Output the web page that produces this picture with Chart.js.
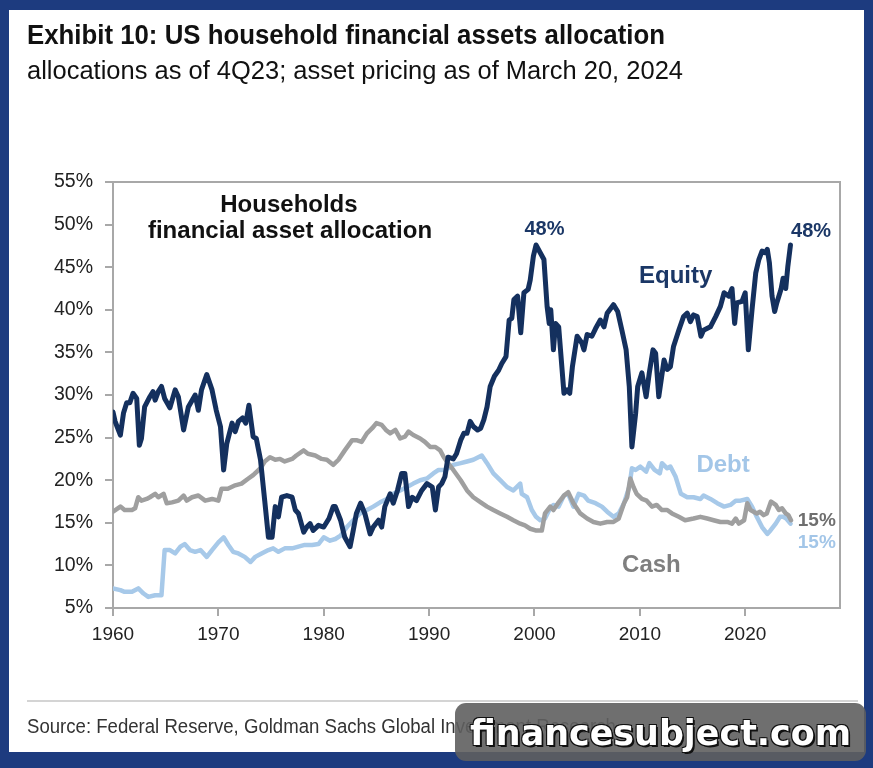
<!DOCTYPE html>
<html>
<head>
<meta charset="utf-8">
<script src="https://cdn.jsdelivr.net/npm/chart.js@4/dist/chart.umd.min.js"></script>
<style>
  html,body{margin:0;padding:0;}
  body{width:873px;height:768px;background:#1d3b7f;position:relative;overflow:hidden;}
  #panel{position:absolute;left:9px;top:10px;width:855px;height:742px;background:#fff;}
  #c{position:absolute;left:0;top:0;}
  .txt{position:absolute;white-space:nowrap;transform-origin:0 0;line-height:1;}
  #title{left:27px;top:21px;font-family:"Liberation Sans",Arial,sans-serif;font-weight:bold;font-size:28px;color:#111;}
  #subtitle{left:27px;top:57px;font-family:"Liberation Sans",Arial,sans-serif;font-size:26px;color:#111;}
  #sep{position:absolute;left:27px;top:700px;width:831px;height:2px;background:#d4d4d4;}
  #source{left:27px;top:716px;font-family:"Liberation Sans",Arial,sans-serif;font-size:20px;color:#333;}
  #wm{position:absolute;left:455px;top:703px;width:411px;height:58px;background:rgba(95,95,95,0.9);border-radius:11px;}
  #wmtext{left:470px;top:715px;font-family:"DejaVu Sans",sans-serif;font-weight:bold;font-size:36px;color:#fff;text-shadow:2px 2px 0 #111,-1px -1px 0 #111,1px -1px 0 #111,-1px 1px 0 #111;}
</style>
</head>
<body>
<div id="panel"></div>
<canvas id="c" width="873" height="768"></canvas>
<div id="title" class="txt">Exhibit 10: US household financial assets allocation</div>
<div id="subtitle" class="txt">allocations as of 4Q23; asset pricing as of March 20, 2024</div>
<div id="sep"></div>
<div id="source" class="txt">Source: Federal Reserve, Goldman Sachs Global Investment Research</div>
<div id="wm"></div>
<div id="wmtext" class="txt">financesubject.com</div>
<script>
// ---------- DATA ----------
const xTicks = [1960, 1970, 1980, 1990, 2000, 2010, 2020];
const yTicks = [5, 10, 15, 20, 25, 30, 35, 40, 45, 50, 55];

const equityYears = [1960.0,1960.2,1960.7,1961.0,1961.3,1961.6,1961.9,1962.25,1962.5,1962.7,1963.0,1963.5,1963.8,1964.0,1964.3,1964.6,1964.9,1965.4,1965.9,1966.2,1966.7,1967.15,1967.8,1968.1,1968.4,1968.9,1969.4,1969.8,1970.2,1970.5,1970.8,1971.3,1971.6,1971.9,1972.3,1972.6,1972.9,1973.3,1973.6,1974.0,1974.4,1974.75,1975.1,1975.4,1975.7,1976.0,1976.5,1977.0,1977.3,1977.6,1978.1,1978.4,1978.7,1979.0,1979.5,1980.0,1980.5,1980.9,1981.1,1981.6,1982.0,1982.5,1982.8,1983.1,1983.5,1983.9,1984.4,1984.7,1985.2,1985.5,1985.8,1986.3,1986.6,1987.0,1987.4,1987.7,1988.05,1988.4,1988.8,1989.3,1989.8,1990.3,1990.6,1990.9,1991.2,1991.5,1991.8,1992.3,1992.6,1993.0,1993.3,1993.6,1993.9,1994.2,1994.6,1994.9,1995.2,1995.5,1995.8,1996.2,1996.6,1996.9,1997.3,1997.6,1997.85,1998.05,1998.4,1998.7,1999.0,1999.4,1999.6,1999.9,2000.15,2000.55,2000.9,2001.2,2001.4,2001.55,2001.8,2002.0,2002.3,2002.8,2003.1,2003.35,2003.6,2004.05,2004.5,2004.7,2005.0,2005.45,2005.8,2006.25,2006.6,2006.9,2007.5,2007.9,2008.3,2008.7,2009.0,2009.25,2009.6,2009.8,2010.2,2010.6,2010.9,2011.25,2011.5,2011.8,2012.3,2012.6,2012.9,2013.2,2013.7,2014.15,2014.5,2014.8,2015.1,2015.45,2015.8,2016.05,2016.7,2017.2,2017.65,2018.0,2018.45,2018.75,2019.0,2019.2,2019.7,2020.0,2020.3,2020.65,2021.0,2021.3,2021.6,2021.9,2022.1,2022.3,2022.55,2022.8,2023.0,2023.4,2023.6,2023.85,2024.05,2024.3];
const equityValues = [28.0,26.9,25.3,27.9,29.1,29.1,30.2,29.6,24.1,24.9,28.6,29.8,30.4,29.4,30.4,31.0,29.6,28.5,30.6,29.8,25.9,28.6,30.0,28.2,30.6,32.4,30.6,28.2,26.3,21.2,24.3,26.7,25.7,26.9,27.3,26.7,28.8,25.1,24.9,22.4,17.6,13.3,13.3,16.9,15.7,18.0,18.2,18.0,16.5,16.1,13.9,14.5,14.9,14.1,14.7,14.5,15.5,16.9,16.9,15.3,13.3,12.2,14.1,16.1,17.3,16.1,13.7,14.5,15.3,14.5,16.9,18.4,17.3,18.8,20.8,20.8,16.9,18.0,17.6,18.8,19.6,19.2,16.5,19.2,19.6,20.4,22.7,22.5,23.1,24.7,25.5,25.5,26.9,26.3,25.9,26.1,27.1,28.6,31.0,32.2,32.9,33.7,34.5,38.8,39.0,41.2,41.6,37.3,42.0,42.4,43.5,46.3,47.6,46.7,45.9,40.4,38.4,40.0,35.3,38.4,38.0,30.2,30.6,30.2,33.3,36.9,36.1,35.3,37.1,36.9,37.8,38.8,38.0,39.6,40.6,39.8,37.6,35.3,31.0,23.9,27.8,31.0,32.6,29.8,32.6,35.3,34.9,29.8,34.1,33.0,33.3,35.7,37.6,39.2,39.6,38.6,39.4,39.2,36.9,37.6,38.0,39.2,40.4,42.0,41.6,42.5,38.4,40.8,41.0,42.0,35.3,40.0,44.3,45.9,46.9,46.7,47.1,45.5,41.6,39.8,40.8,42.4,43.7,42.5,45.1,47.6];

const cashYears = [1960.0,1960.7,1961.1,1961.8,1962.1,1962.4,1962.7,1963.2,1963.5,1964.0,1964.3,1964.8,1965.1,1965.6,1966.2,1966.7,1967.0,1967.5,1968.1,1968.75,1969.4,1970.0,1970.3,1970.9,1971.6,1972.2,1972.85,1973.3,1974.0,1974.4,1974.9,1975.4,1975.85,1976.3,1977.0,1977.4,1978.1,1978.5,1979.2,1979.8,1980.3,1980.9,1981.4,1982.0,1982.7,1983.1,1983.6,1984.1,1984.6,1985.0,1985.5,1985.9,1986.3,1986.8,1987.25,1987.7,1988.05,1988.5,1989.15,1989.6,1990.1,1990.6,1991.05,1991.4,1991.8,1992.3,1993.0,1993.6,1994.2,1994.9,1995.5,1996.1,1996.75,1997.4,1998.0,1998.65,1999.1,1999.6,2000.1,2000.7,2001.0,2001.5,2001.8,2002.3,2002.8,2003.2,2003.7,2004.35,2005.0,2005.6,2006.25,2006.9,2007.5,2008.0,2008.5,2008.8,2009.1,2009.4,2009.7,2010.2,2010.65,2011.15,2011.6,2012.1,2012.6,2013.05,2013.7,2014.3,2015.1,2015.75,2016.4,2017.0,2017.65,2018.3,2018.75,2019.1,2019.4,2019.9,2020.2,2020.5,2021.1,2021.4,2021.75,2022.05,2022.45,2022.9,2023.2,2023.5,2023.85,2024.1,2024.35];
const cashValues = [16.3,16.9,16.5,16.5,16.7,18.0,17.6,17.8,18.0,18.4,18.0,18.4,17.3,17.4,17.6,18.2,17.6,18.0,18.2,17.6,17.8,17.6,19.0,19.0,19.4,19.6,20.2,20.6,21.4,22.2,22.7,22.4,22.5,22.2,22.5,22.9,23.5,23.1,22.9,22.5,22.4,21.8,22.4,23.5,24.7,24.7,24.5,25.5,26.1,26.7,26.5,25.9,25.5,25.9,24.9,25.1,25.7,25.3,24.9,24.5,23.9,23.9,23.5,22.7,22.0,21.2,20.0,18.8,18.0,17.4,16.9,16.5,16.1,15.7,15.3,14.9,14.7,14.3,14.1,14.1,16.1,16.9,16.5,17.4,18.2,18.6,17.3,16.1,15.5,15.1,14.9,15.1,15.1,15.5,17.3,18.0,20.2,19.2,18.4,17.8,17.6,16.9,17.1,16.5,16.5,16.1,15.7,15.3,15.5,15.7,15.5,15.3,15.1,15.1,14.9,15.5,14.9,15.3,17.3,16.5,16.1,16.3,15.9,16.1,17.5,17.1,16.5,16.7,16.1,15.9,15.3];

const debtYears = [1960.0,1960.7,1961.1,1961.8,1962.4,1962.9,1963.35,1964.0,1964.6,1964.9,1965.4,1965.9,1966.4,1966.8,1967.3,1967.8,1968.3,1968.9,1969.4,1970.0,1970.5,1970.95,1971.4,1971.9,1972.5,1973.05,1973.5,1974.1,1974.75,1975.2,1975.7,1976.3,1977.0,1977.6,1978.2,1978.9,1979.5,1980.0,1980.6,1981.1,1981.6,1982.2,1982.8,1983.45,1984.1,1984.7,1985.35,1986.0,1986.6,1987.25,1987.9,1988.5,1989.15,1989.8,1990.4,1990.9,1991.4,1991.8,1992.3,1993.0,1993.6,1994.2,1995.0,1995.5,1996.1,1996.75,1997.4,1998.0,1998.65,1998.8,1999.3,1999.75,2000.15,2000.55,2001.0,2001.4,2001.8,2002.3,2002.8,2003.2,2003.7,2004.2,2004.7,2005.1,2005.8,2006.4,2006.9,2007.5,2008.0,2008.5,2009.0,2009.25,2009.6,2010.05,2010.6,2010.9,2011.4,2011.9,2012.1,2012.6,2012.9,2013.4,2013.9,2014.5,2015.1,2015.75,2016.05,2016.7,2017.35,2018.0,2018.6,2019.1,2019.55,2020.2,2020.65,2021.1,2021.6,2022.1,2022.4,2022.9,2023.3,2023.6,2023.9,2024.3];
const debtValues = [7.3,7.1,6.9,6.9,7.3,6.7,6.3,6.5,6.5,11.8,11.8,11.4,12.2,12.5,11.8,11.6,11.8,11.0,11.8,12.7,13.3,12.4,11.6,11.4,11.0,10.4,11.0,11.4,11.8,12.0,11.6,12.0,12.0,12.2,12.4,12.4,12.5,13.3,12.9,13.1,13.5,14.5,15.3,16.1,16.5,16.9,17.4,17.8,18.4,18.8,19.2,19.6,20.0,20.2,20.8,21.2,21.2,21.4,21.8,22.0,22.2,22.4,22.9,22.0,20.8,20.0,19.2,18.8,19.6,18.4,18.0,16.5,15.7,15.3,15.5,16.5,17.1,16.9,18.2,18.4,16.9,18.4,18.2,17.6,17.3,16.9,16.3,15.7,16.1,17.3,19.2,21.4,21.2,21.6,21.0,22.0,21.2,20.8,22.0,21.4,21.6,20.4,18.4,18.0,18.0,17.8,18.2,17.8,17.3,16.9,17.1,17.6,17.6,17.8,16.9,15.7,14.5,13.7,14.1,14.9,15.7,15.7,15.5,14.9];

// ---------- STYLE / LAYOUT ----------
const EQ_COLOR = '#14305e', CASH_COLOR = '#9f9f9f', DEBT_COLOR = '#a7c9e9';
const GRID = '#a8a8a8';
const annotations = [
  {text:'Households', x:1976.7, y:51.5, color:'#111', font:'bold 24px "Liberation Sans", Arial, sans-serif'},
  {text:'financial asset allocation', x:1976.8, y:48.45, color:'#111', font:'bold 24px "Liberation Sans", Arial, sans-serif'},
  {text:'48%', x:2000.95, y:48.8, color:'#1b3766', font:'bold 20px "Liberation Sans", Arial, sans-serif'},
  {text:'48%', x:2026.25, y:48.6, color:'#1b3766', font:'bold 20px "Liberation Sans", Arial, sans-serif'},
  {text:'Equity', x:2013.4, y:43.2, color:'#1b3766', font:'bold 24px "Liberation Sans", Arial, sans-serif'},
  {text:'Debt', x:2017.9, y:20.95, color:'#a3c6e8', font:'bold 24px "Liberation Sans", Arial, sans-serif'},
  {text:'Cash', x:2011.1, y:9.2, color:'#7f7f7f', font:'bold 24px "Liberation Sans", Arial, sans-serif'},
  {text:'15%', x:2026.8, y:14.6, color:'#6f6f6f', font:'bold 19px "Liberation Sans", Arial, sans-serif'},
  {text:'15%', x:2026.8, y:12.1, color:'#a3c6e8', font:'bold 19px "Liberation Sans", Arial, sans-serif'}
];

function pts(xs, ys){ return xs.map((x,i)=>({x:x, y:ys[i]})); }

const framePlugin = {
  id:'frame',
  beforeDatasetsDraw(chart){
    const {ctx, chartArea:a} = chart;
    ctx.save();
    ctx.strokeStyle = GRID; ctx.lineWidth = 2;
    ctx.beginPath();
    ctx.moveTo(a.left, a.top); ctx.lineTo(a.right, a.top); ctx.lineTo(a.right, a.bottom);
    ctx.stroke();
    ctx.restore();
  },
  afterDatasetsDraw(chart){
    const {ctx, scales} = chart;
    ctx.save();
    ctx.textAlign = 'center'; ctx.textBaseline = 'alphabetic';
    annotations.forEach(a=>{
      ctx.font = a.font; ctx.fillStyle = a.color;
      ctx.fillText(a.text, scales.x.getPixelForValue(a.x), scales.y.getPixelForValue(a.y));
    });
    ctx.restore();
  }
};

new Chart(document.getElementById('c'), {
  type:'line',
  data:{
    datasets:[
      {label:'Equity', data:pts(equityYears, equityValues), borderColor:EQ_COLOR, borderWidth:5},
      {label:'Cash', data:pts(cashYears, cashValues), borderColor:CASH_COLOR, borderWidth:4.5},
      {label:'Debt', data:pts(debtYears, debtValues), borderColor:DEBT_COLOR, borderWidth:4.5}
    ].map(d=>Object.assign(d,{pointRadius:0, tension:0, fill:false, borderJoinStyle:'round', borderCapStyle:'round'}))
  },
  options:{
    responsive:false, animation:false, devicePixelRatio:1,
    layout:{padding:{top:182, right:33, bottom:120, left:0}},
    plugins:{legend:{display:false}, tooltip:{enabled:false}},
    scales:{
      x:{type:'linear', min:1960, max:2029,
        afterFit:s=>{ s.height = 40; },
        afterBuildTicks:s=>{ s.ticks = xTicks.map(v=>({value:v})); },
        grid:{drawOnChartArea:false, tickLength:8, color:GRID, lineWidth:2},
        border:{color:GRID, width:2},
        ticks:{font:{family:'"Liberation Sans", Arial, sans-serif', size:19}, color:'#222', padding:7, maxRotation:0, autoSkip:false, callback:v=>String(v)}
      },
      y:{min:5, max:55,
        afterFit:s=>{ s.width = 113; },
        afterBuildTicks:s=>{ s.ticks = yTicks.map(v=>({value:v})); },
        grid:{drawOnChartArea:false, tickLength:8, color:GRID, lineWidth:2},
        border:{color:GRID, width:2},
        ticks:{font:{family:'"Liberation Sans", Arial, sans-serif', size:19.5}, color:'#222', padding:12, autoSkip:false, callback:v=>v+'%'}
      }
    }
  },
  plugins:[framePlugin]
});

// fit header / footer text widths to the reference layout
function fit(id, target, prefix){
  const el = document.getElementById(id);
  let w;
  if (prefix){
    const m = document.createElement('span');
    m.textContent = prefix; m.style.font = getComputedStyle(el).font; m.style.whiteSpace='nowrap';
    m.style.position='absolute'; m.style.visibility='hidden';
    document.body.appendChild(m); w = m.getBoundingClientRect().width; m.remove();
  } else {
    w = el.getBoundingClientRect().width;
  }
  el.style.transform = 'scaleX(' + (target / w) + ')';
}
fit('title', 638);
fit('subtitle', 656);
fit('source', 438, 'Source: Federal Reserve, Goldman Sachs Global Inv');
fit('wmtext', 381);
</script>
</body>
</html>
